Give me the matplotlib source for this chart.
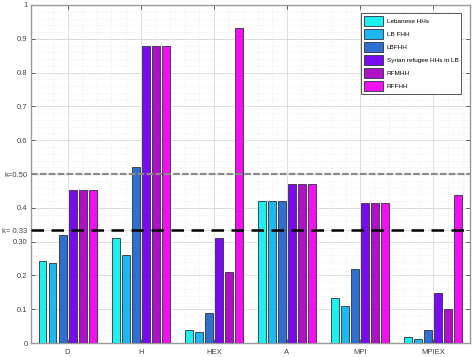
import numpy as np
import matplotlib
matplotlib.use("Agg")
from matplotlib import pyplot as plt
from matplotlib.ticker import AutoMinorLocator

plt.rcParams['font.family'] = ['Liberation Sans', 'DejaVu Sans']

# indicatori sull'asse x
categorie = ['D', 'H', 'HEX', 'A', 'MPI', 'MPIEX']

# gruppi di famiglie
gruppi = ['Lebanese HHs', 'LB FHH', 'LBFHH', 'Syrian refugee HHs in LB', 'RFMHH', 'RFFHH']

lebanese = [0.243, 0.310, 0.040, 0.420, 0.132, 0.018]
lb_fhh = [0.236, 0.260, 0.032, 0.420, 0.109, 0.013]
lbfhh = [0.320, 0.522, 0.090, 0.420, 0.220, 0.038]
syrian = [0.452, 0.880, 0.310, 0.471, 0.414, 0.147]
rfmhh = [0.452, 0.880, 0.210, 0.471, 0.414, 0.100]
rffhh = [0.452, 0.880, 0.931, 0.471, 0.414, 0.439]

soglie = [0.50, 0.333]

yticks = [0, 0.1, 0.2, 0.30, 0.333, 0.4, 0.5, 0.6, 0.7, 0.8, 0.9, 1]
yticklabels = ['0', '0.1', '0.2', '0.30', 'k= 0.33', '0.4', 'k=0.50', '0.6', '0.7', '0.8', '0.9', '1']

colori = ['#1ef0f0', '#1eb8f0', '#2f6fd0', '#7a0af0', '#b010c8', '#f010f0']

serie = [lebanese, lb_fhh, lbfhh, syrian, rfmhh, rffhh]

fig = plt.figure(figsize=(4.74, 3.57), dpi=100)
ax = fig.add_axes([0.0654, 0.039, 0.926, 0.947])

x = np.arange(1, len(categorie) + 1)
passo = 0.137
larg = 0.108
for i in range(len(serie)):
    ax.bar(x + (i - 2.5) * passo, serie[i], width=larg, color=colori[i],
           edgecolor='#303040', linewidth=0.6, label=gruppi[i], zorder=3)

# linee di soglia
ax.axhline(soglie[0], color='#8a8a8a', linewidth=1.6, linestyle=(0, (3, 1)), zorder=4)
ax.axhline(soglie[1], color='black', linewidth=1.8, linestyle=(0, (5, 3)), zorder=4)

ax.set_xlim(0.5, 6.5)
ax.set_ylim(0, 1)
ax.set_xticks(x)
ax.set_xticklabels(categorie)
ax.set_yticks(yticks)
ax.set_yticklabels(yticklabels)
ax.xaxis.set_minor_locator(AutoMinorLocator(5))
ax.yaxis.set_minor_locator(AutoMinorLocator(5))
ax.tick_params(axis='both', which='major', direction='in', length=3, width=0.6,
               labelsize=5.5, colors='#444444', top=True, right=True, pad=2.5)
ax.tick_params(axis='x', which='major', pad=4)
ax.tick_params(axis='both', which='minor', length=0, top=True, right=True)
ax.grid(True, which='major', color='#d8d8d8', linewidth=0.6, zorder=0)
ax.grid(True, which='minor', color='#e8e8e8', linewidth=0.5, linestyle=':', zorder=0)
ax.set_axisbelow(True)
for s in ax.spines.values():
    s.set_color('#999999')
    s.set_linewidth(1.0)

leg = ax.legend(loc='upper right', fontsize=4.6, fancybox=False, framealpha=1,
                edgecolor='#555555', handlelength=3.0, handleheight=1.9,
                handletextpad=0.5, borderpad=0.5, labelspacing=0.55,
                bbox_to_anchor=(0.988, 0.985))
leg.get_frame().set_linewidth(0.7)

fig.savefig('out.png', dpi=100)
